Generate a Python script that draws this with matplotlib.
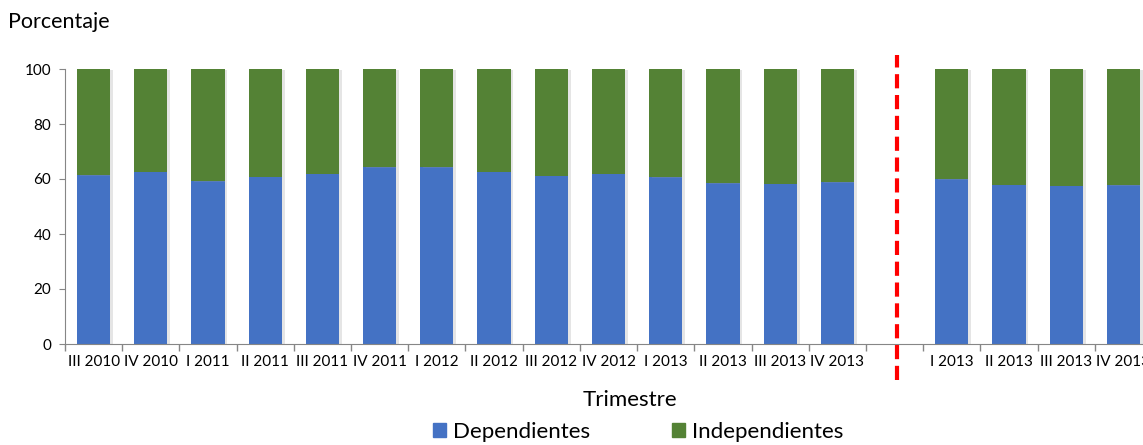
import matplotlib.pyplot as plt
import matplotlib.patheffects as pe
from matplotlib.patches import Patch
import numpy as np

plt.rcParams['font.family'] = ['Lato', 'DejaVu Sans']

# Trimestres (hueco vacio entre IV 2013 y la segunda serie)
trimestres = ['III 2010', 'IV 2010', 'I 2011', 'II 2011', 'III 2011', 'IV 2011',
              'I 2012', 'II 2012', 'III 2012', 'IV 2012', 'I 2013', 'II 2013',
              'III 2013', 'IV 2013', '', 'I 2013', 'II 2013', 'III 2013', 'IV 2013']
dependientes = [61.5, 62.7, 59.3, 60.9, 61.9, 64.4, 64.3, 62.7, 61.2, 61.9,
                60.7, 58.5, 58.3, 58.8, np.nan, 60.0, 58.0, 57.6, 57.8]
independientes = [100 - d for d in dependientes]

azul = '#4472C4'
verde = '#548235'
gris = '#868686'

fig = plt.figure(figsize=(11.43, 4.45), dpi=100)
ax = fig.add_axes([65/1143, 101/445, 1087/1143, 275/445])

x = np.arange(len(trimestres))
sombra = [pe.SimplePatchShadow(offset=(2, -0.5), shadow_rgbFace='#9a9a9a', alpha=0.25), pe.Normal()]
b1 = ax.bar(x, dependientes, width=0.58, color=azul)
b2 = ax.bar(x, independientes, width=0.58, bottom=dependientes, color=verde)
for b in list(b1) + list(b2):
    b.set_path_effects(sombra)

# linea punteada roja en el hueco
ax.plot([14.05, 14.05], [-13, 105], color='#FF0000', lw=3, ls=(0, (3.4, 1.6)), clip_on=False)

ax.set_xlim(-0.5, 18.5)
ax.set_ylim(0, 100)
ax.set_yticks([0, 20, 40, 60, 80, 100])
ax.set_xticks(x)
ax.set_xticklabels(trimestres, fontsize=11)
ax.set_xticks(np.arange(-0.5, 19, 1), minor=True)
ax.tick_params(axis='x', which='major', length=0, pad=8)
ax.tick_params(axis='x', which='minor', length=5, color=gris, width=1)
ax.tick_params(axis='y', length=4, color=gris, labelsize=11, pad=6)

for s in ['top', 'right']:
    ax.spines[s].set_visible(False)
ax.spines['left'].set_color(gris)
ax.spines['bottom'].set_color(gris)

fig.text(8/1143, 1 - 22/445, 'Porcentaje', fontsize=15.5, va='center', ha='left')
fig.text(630/1143, 1 - 400/445, 'Trimestre', fontsize=16, va='center', ha='center')

handles = [Patch(color=azul, label='Dependientes'), Patch(color=verde, label='Independientes')]
fig.legend(handles=handles, loc='center', bbox_to_anchor=(638/1143, 1 - 432/445),
           ncol=2, frameon=False, fontsize=16, handlelength=0.6, handleheight=0.6,
           handletextpad=0.3, columnspacing=3.7, borderpad=0)

fig.savefig('out.png', dpi=100)
